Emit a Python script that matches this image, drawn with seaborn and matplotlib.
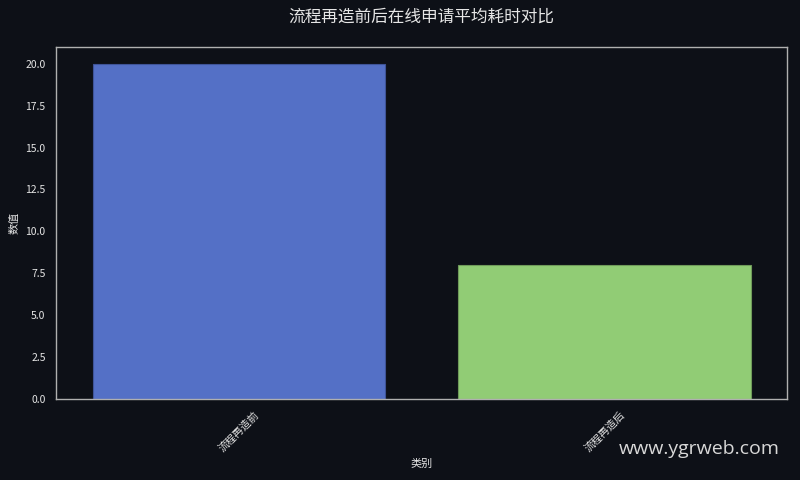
import matplotlib
matplotlib.use("Agg")
import matplotlib.pyplot as plt
import seaborn as sns
import pandas as pd

categories = ["流程再造前", "流程再造后"]
values = [20, 8]
colors = ["#5470c6", "#91cc75"]
title = "流程再造前后在线申请平均耗时对比"
xlabel = "类别"
ylabel = "数值"
watermark = "www.ygrweb.com"

sns.set_theme(style="dark")
bg = "#0d1017"
fg = "#e6e6e6"
plt.rcParams['font.family'] = ['Noto Sans CJK SC', 'DejaVu Sans']
plt.rcParams['axes.unicode_minus'] = False

df = pd.DataFrame({"category": categories, "value": values})

fig = plt.figure(figsize=(8, 4.8), dpi=100, facecolor=bg)
ax = fig.add_axes([0.07, 0.169, 0.914, 0.733])
ax.set_facecolor(bg)
sns.barplot(data=df, x="category", y="value", hue="category", palette=colors,
            legend=False, ax=ax, width=0.8, saturation=1, linewidth=0.8)
edge_cols = ["#3f5498", "#6f9a5a"]
for p, ec in zip(ax.patches, edge_cols):
    p.set_edgecolor(ec)

yt = [0, 2.5, 5, 7.5, 10, 12.5, 15, 17.5, 20]
ax.set_ylim(0, 21)
ax.set_yticks(yt)
ax.set_yticklabels([f"{v:.1f}" for v in yt])
ax.set_title(title, color=fg, fontsize=12, pad=18)
ax.set_xlabel(xlabel, color=fg, fontsize=8)
ax.set_ylabel(ylabel, color=fg, fontsize=8)
ax.tick_params(axis='both', colors=fg, labelsize=7.5, length=4, width=0.8, direction='out')
for lbl in ax.get_xticklabels():
    lbl.set_rotation(45)
    lbl.set_ha('center')
for s in ax.spines.values():
    s.set_visible(True)
    s.set_color("#b0b0b0")
    s.set_linewidth(1.0)
ax.grid(False)

fig.text(0.975, 0.065, watermark, color="#d8d8d8", fontsize=14, ha='right', va='center',
         family=['Open Sans', 'DejaVu Sans'])

fig.savefig("out.png", dpi=100, facecolor=bg)
